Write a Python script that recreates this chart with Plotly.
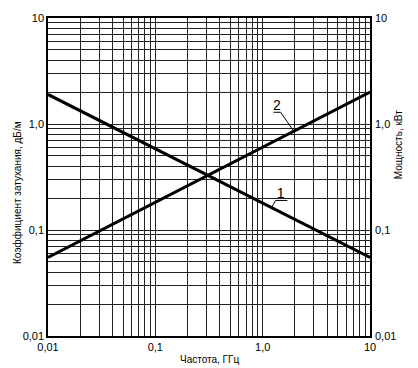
import numpy as np
import plotly.graph_objects as go

# Data
freq_ghz = [0.01, 10]
atten_db_per_m = [1.9, 0.055]      # curve 1
power_kw = [0.055, 2.0]            # curve 2

decades = [0.01, 0.1, 1, 10]
tick_labels = ["0,01", "0,1", "1,0", "10"]

grid_vals = []
grid_text = []
for d in decades:
    for m in range(1, 10):
        v = d * m
        if v > 10.0001:
            break
        grid_vals.append(v)
        grid_text.append(tick_labels[decades.index(d)] if m == 1 else "")

def on_line(xs, ys, x):
    lx = np.log10(xs); ly = np.log10(ys)
    return 10 ** np.interp(np.log10(x), lx, ly)

BLACK = "#000000"
FONT = "Liberation Sans, Arial, sans-serif"

fig = go.Figure()
fig.add_trace(go.Scatter(x=freq_ghz, y=atten_db_per_m, mode="lines",
                         line=dict(color=BLACK, width=3), showlegend=False, hoverinfo="skip"))
fig.add_trace(go.Scatter(x=freq_ghz, y=power_kw, mode="lines",
                         line=dict(color=BLACK, width=3), showlegend=False, hoverinfo="skip",
                         yaxis="y2"))

# curve labels with leader lines
f2 = 1.95
p2 = on_line(freq_ghz, power_kw, f2)
fig.add_trace(go.Scatter(x=[f2, 1.47, 1.26], y=[p2, 1.29, 1.29], mode="lines",
                         line=dict(color=BLACK, width=1), showlegend=False, hoverinfo="skip"))
fig.add_trace(go.Scatter(x=[1.36], y=[1.47], mode="text", text=["2"],
                         textfont=dict(family=FONT, size=14, color=BLACK),
                         showlegend=False, hoverinfo="skip"))
f1 = 1.21
a1 = on_line(freq_ghz, atten_db_per_m, f1)
fig.add_trace(go.Scatter(x=[f1, 1.32, 1.70], y=[a1, 0.19, 0.19], mode="lines",
                         line=dict(color=BLACK, width=1), showlegend=False, hoverinfo="skip"))
fig.add_trace(go.Scatter(x=[1.47], y=[0.218], mode="text", text=["1"],
                         textfont=dict(family=FONT, size=14, color=BLACK),
                         showlegend=False, hoverinfo="skip"))

axis_common = dict(type="log", range=[-2, 1], tickvals=grid_vals, ticktext=grid_text,
                   showgrid=True, gridcolor="#222222", gridwidth=1,
                   showline=True, linecolor=BLACK, linewidth=1.5,
                   ticks="", zeroline=False,
                   tickfont=dict(family=FONT, size=11, color=BLACK))

fig.update_layout(
    width=418, height=368,
    margin=dict(l=48, r=48, t=15, b=32),
    paper_bgcolor="white", plot_bgcolor="white",
    xaxis=dict(**axis_common, mirror=True, ticklabelstandoff=0),
    yaxis=dict(**axis_common, mirror=True, ticklabelstandoff=0),
    yaxis2=dict(type="log", range=[-2, 1], tickvals=decades, ticktext=tick_labels,
                overlaying="y", side="right", showgrid=False, showline=False,
                ticks="", zeroline=False, ticklabelstandoff=4,
                tickfont=dict(family=FONT, size=11, color=BLACK)),
    annotations=[
        dict(text="Частота, ГГц", xref="paper", yref="paper", x=0.5, y=-0.074,
             xanchor="center", yanchor="middle", showarrow=False,
             font=dict(family=FONT, size=10, color=BLACK)),
        dict(text="Коэффициент затухания, дБ/м", xref="paper", yref="paper",
             x=-0.093, y=0.45, xanchor="center", yanchor="middle", textangle=-90,
             showarrow=False, font=dict(family=FONT, size=10, color=BLACK)),
        dict(text="Мощность, кВт", xref="paper", yref="paper",
             x=1.087, y=0.6, xanchor="center", yanchor="middle", textangle=-90,
             showarrow=False, font=dict(family=FONT, size=10, color=BLACK)),
    ],
)

fig.write_html("out.html")
